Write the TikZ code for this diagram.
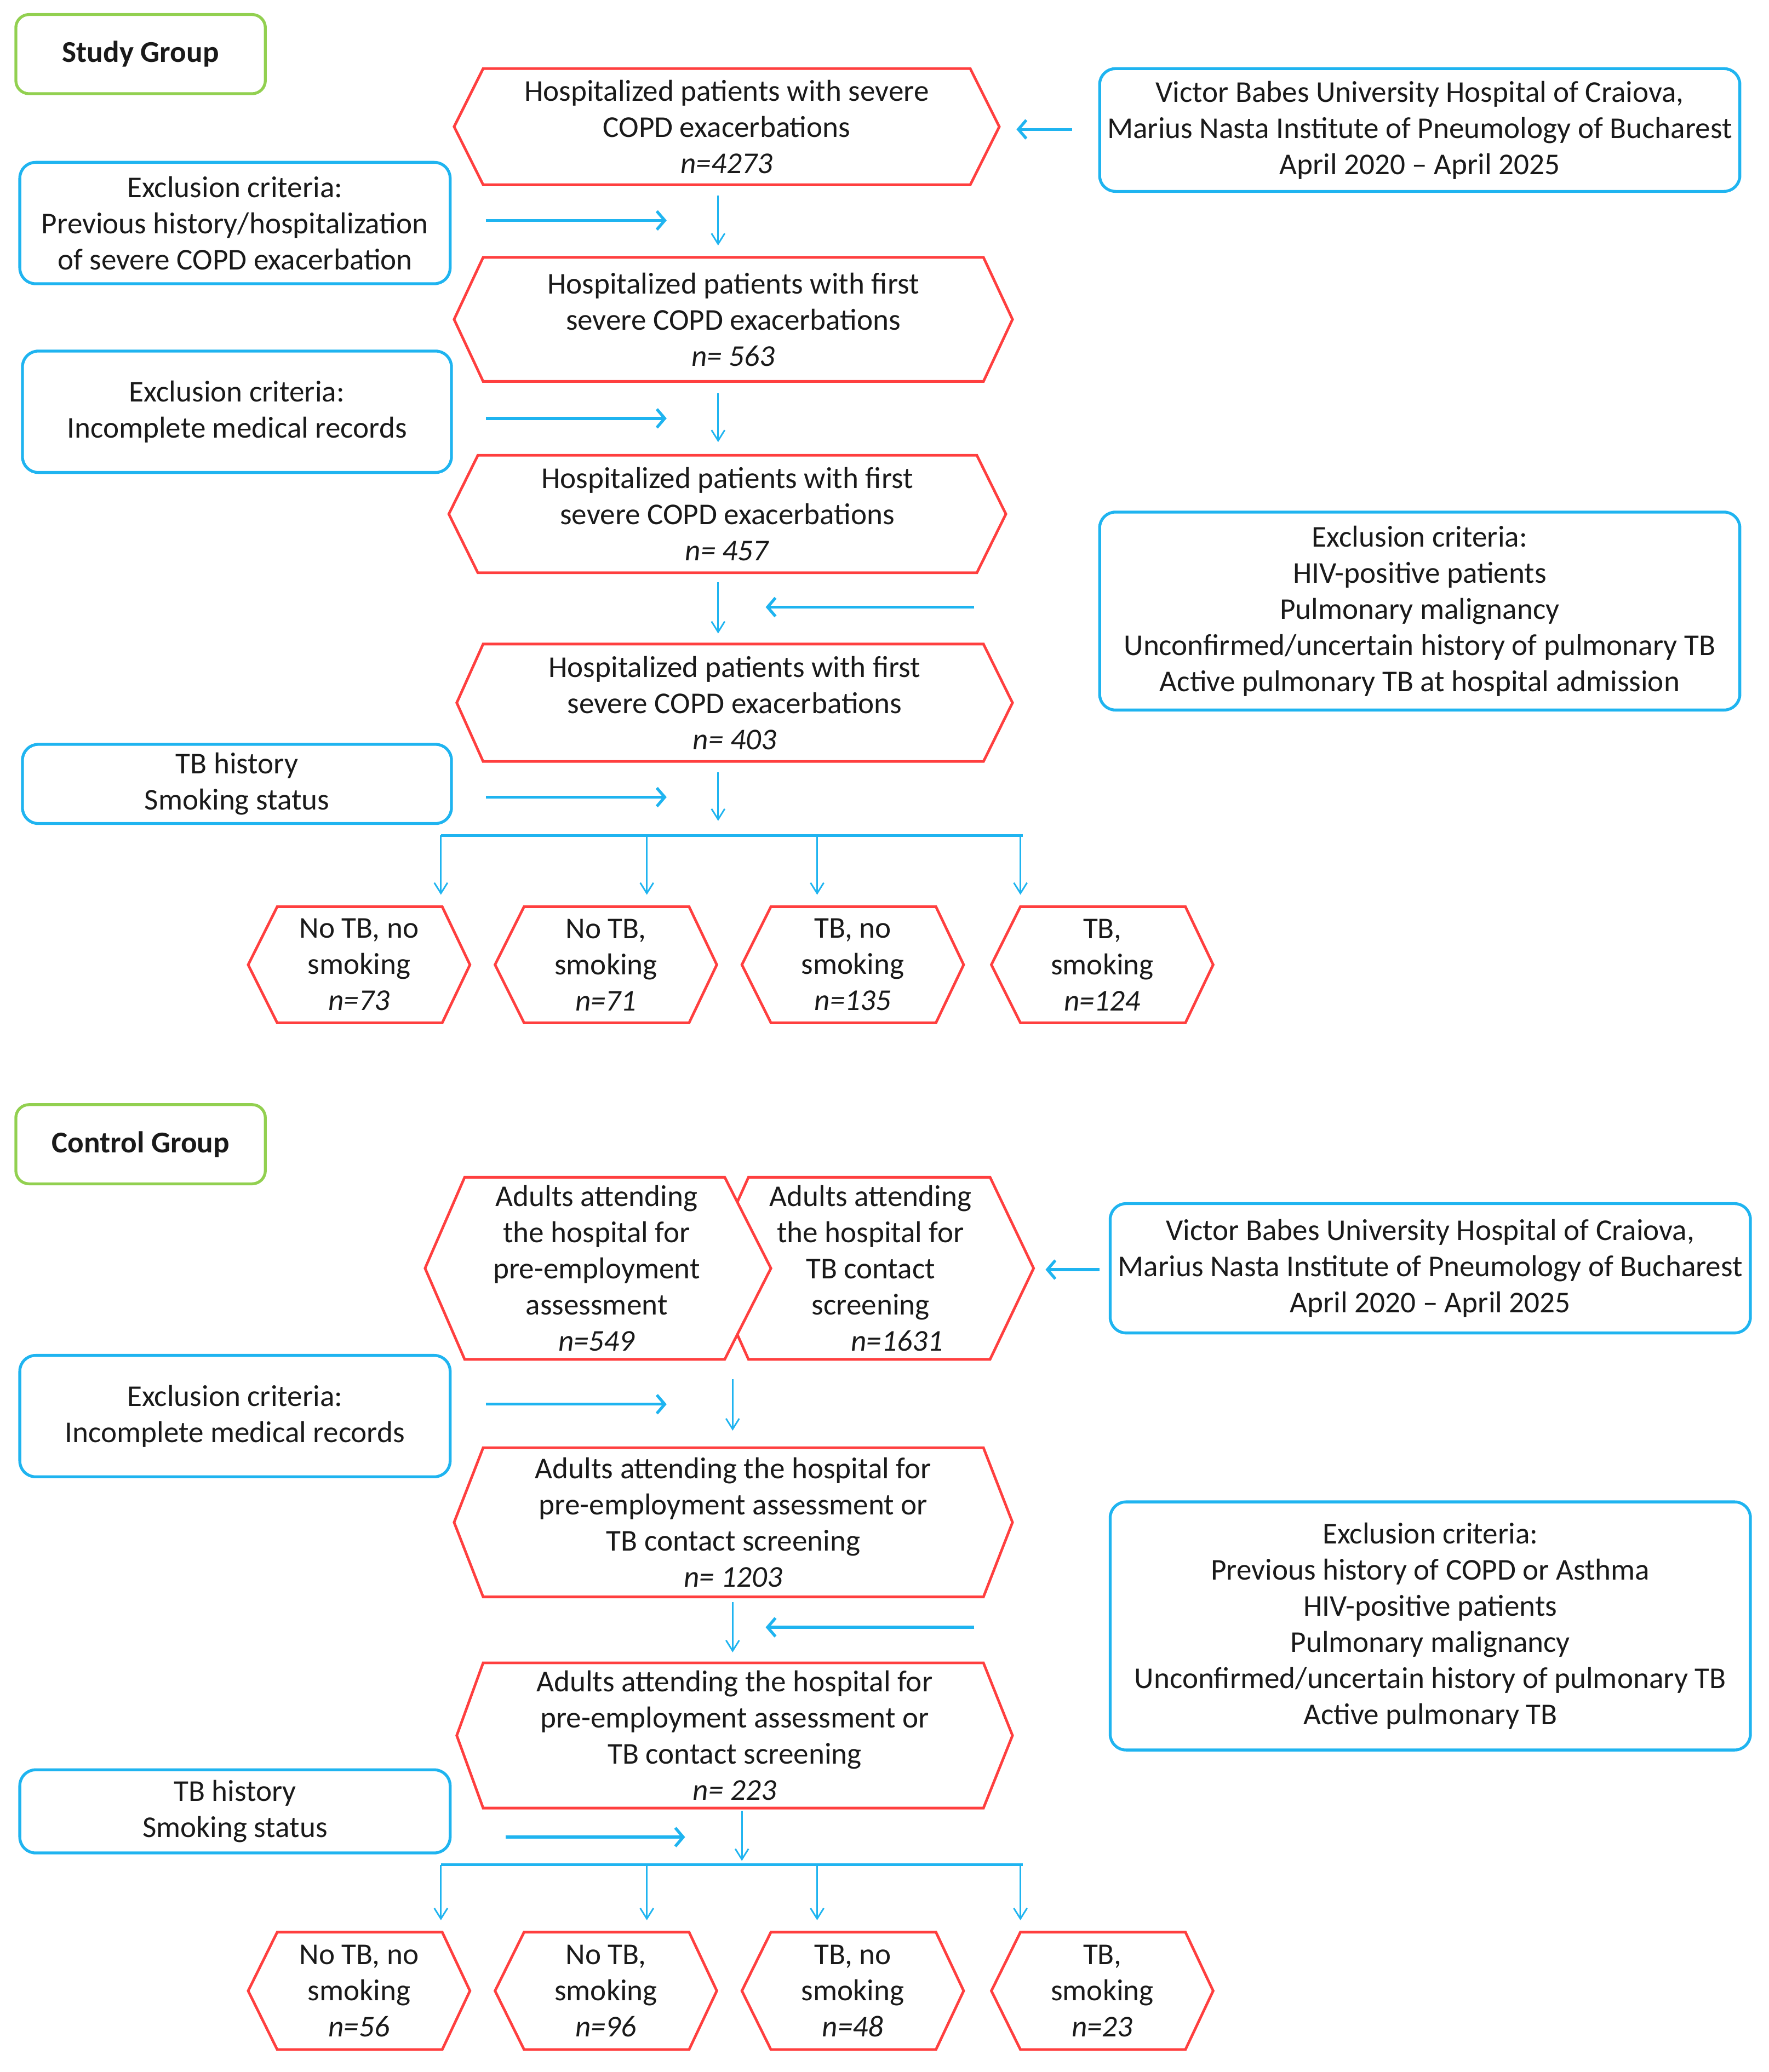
\documentclass[tikz,border=0pt]{standalone}
\usepackage{fontspec}
\setmainfont{Carlito}
\usetikzlibrary{arrows.meta}
\definecolor{bl}{HTML}{1FB4F0}
\definecolor{rd}{HTML}{FF3F3F}
\definecolor{gr}{HTML}{92D050}
\definecolor{tx}{HTML}{1A1A1A}
\newcommand{\myhex}[8]{%
  \draw[hexline] (#2,{(#6+#7)/2}) -- (#3,#6) -- (#4,#6) -- (#5,{(#6+#7)/2}) -- (#4,#7) -- (#3,#7) -- cycle;
  \node[hextext] (#1) at ({(#2+#5)/2},{(#6+#7)/2}) {#8};
}
\tikzset{
  txt/.style={align=center, text=tx, font=\fontsize{11.45}{13.7}\selectfont, inner sep=0pt},
  hexline/.style={draw=rd, line width=1pt, fill=white, line join=miter},
  hextext/.style={txt},
  bluebox/.style={txt, draw=bl, line width=1.1pt, rounded corners=6pt},
  greenbox/.style={txt, draw=gr, line width=1.1pt, rounded corners=5pt, font=\fontsize{11.45}{13.7}\selectfont\bfseries},
  thickarr/.style={draw=bl, line width=1.1pt, -{Straight Barb[length=3pt,width=7pt]}},
  thinarr/.style={draw=bl, line width=0.6pt, -{Straight Barb[length=4pt,width=5pt]}},
  branch/.style={draw=bl, line width=1.1pt},
}
\begin{document}
\begin{tikzpicture}[x=0.5pt,y=-0.5pt]
\useasboundingbox (0,0) rectangle (1340,1570);

% ---------------- Study group ----------------
\node[greenbox, minimum width=94.5pt, minimum height=30pt] (study) at (106.5,41) {Study Group};

\myhex{h1}{344}{366}{735}{757}{52}{140}{Hospitalized patients with severe\\COPD exacerbations\\\textit{n=4273}}
\node[bluebox, minimum width=242.5pt, minimum height=46.5pt] (vic1) at (1075.5,98.5) {Victor Babes University Hospital of Craiova,\\Marius Nasta Institute of Pneumology of Bucharest\\April 2020 -- April 2025};
\coordinate (a1s) at (812,98); \coordinate (a1e) at (770,98);
\draw[thickarr] (a1s) -- (a1e);

\node[bluebox, minimum width=163pt, minimum height=46pt] (ex1) at (178,169) {Exclusion criteria:\\Previous history/hospitalization\\of severe COPD exacerbation};
\coordinate (h1s) at (368,167); \coordinate (h1e) at (505,167);
\draw[thickarr] (h1s) -- (h1e);
\coordinate (v1s) at (544,148); \coordinate (v1e) at (544,186);
\draw[thinarr] (v1s) -- (v1e);

\myhex{h2}{344}{366}{745}{767}{195}{289}{Hospitalized patients with first\\severe COPD exacerbations\\\textit{n= 563}}

\node[bluebox, minimum width=162.5pt, minimum height=46pt] (ex2) at (179.5,312) {Exclusion criteria:\\Incomplete medical records};
\coordinate (h2s) at (368,317); \coordinate (h2e) at (505,317);
\draw[thickarr] (h2s) -- (h2e);
\coordinate (v2s) at (544,298); \coordinate (v2e) at (544,335);
\draw[thinarr] (v2s) -- (v2e);

\myhex{h3}{340}{362}{740}{762}{345}{434}{Hospitalized patients with first\\severe COPD exacerbations\\\textit{n= 457}}

\node[bluebox, minimum width=242.5pt, minimum height=75pt] (ex3) at (1075.5,463) {Exclusion criteria:\\HIV-positive patients\\Pulmonary malignancy\\Unconfirmed/uncertain history of pulmonary TB\\Active pulmonary TB at hospital admission};
\coordinate (a3s) at (738,460); \coordinate (a3e) at (580,460);
\draw[thickarr] (a3s) -- (a3e);
\coordinate (v3s) at (544,441); \coordinate (v3e) at (544,480);
\draw[thinarr] (v3s) -- (v3e);

\myhex{h4}{346}{366}{745}{767}{488}{577}{Hospitalized patients with first\\severe COPD exacerbations\\\textit{n= 403}}

\node[bluebox, minimum width=162.5pt, minimum height=30pt] (tb1) at (179.5,594) {TB history\\Smoking status};
\coordinate (h4s) at (368,604); \coordinate (h4e) at (505,604);
\draw[thickarr] (h4s) -- (h4e);
\coordinate (v4s) at (544,585); \coordinate (v4e) at (544,622);
\draw[thinarr] (v4s) -- (v4e);

\coordinate (b1l) at (334,633); \coordinate (b1r) at (775,633);
\draw[branch] (b1l) -- (b1r);
\coordinate (b1a) at (490,633); \coordinate (b1b) at (619,633); \coordinate (b1c) at (773,633);
\coordinate (e1l) at (334,678); \coordinate (e1a) at (490,678); \coordinate (e1b) at (619,678); \coordinate (e1c) at (773,678);
\draw[thinarr] (b1l) -- (e1l);
\draw[thinarr] (b1a) -- (e1a);
\draw[thinarr] (b1b) -- (e1b);
\draw[thinarr] (b1c) -- (e1c);

\myhex{s1}{188}{210}{335}{356}{687}{775}{No TB, no\\smoking\\\textit{n=73}}
\myhex{s2}{375}{397}{522}{543}{687}{775}{No TB,\\smoking\\\textit{n=71}}
\myhex{s3}{562}{584}{709}{730}{687}{775}{TB, no\\smoking\\\textit{n=135}}
\myhex{s4}{751}{773}{898}{919}{687}{775}{TB,\\smoking\\\textit{n=124}}

% ---------------- Control group ----------------
\node[greenbox, minimum width=94.5pt, minimum height=30pt] (control) at (106.5,867) {Control Group};

\myhex{c0b}{536}{567}{750}{783}{892}{1030}{Adults attending\\the hospital for\\TB contact\\screening\\\hspace*{20pt}\textit{n=1631}}
\myhex{c0a}{322}{352}{549}{584}{892}{1030}{}
\node[hextext] (c0at) at (452,961) {Adults attending\\the hospital for\\pre-employment\\assessment\\\textit{n=549}};

\node[bluebox, minimum width=242.5pt, minimum height=49pt] (vic2) at (1083.5,961) {Victor Babes University Hospital of Craiova,\\Marius Nasta Institute of Pneumology of Bucharest\\April 2020 -- April 2025};
\coordinate (a2s) at (833,962); \coordinate (a2e) at (792,962);
\draw[thickarr] (a2s) -- (a2e);

\node[bluebox, minimum width=163pt, minimum height=46pt] (ex4) at (178,1073) {Exclusion criteria:\\Incomplete medical records};
\coordinate (h5s) at (368,1064); \coordinate (h5e) at (505,1064);
\draw[thickarr] (h5s) -- (h5e);
\coordinate (v5s) at (555,1045); \coordinate (v5e) at (555,1084);
\draw[thinarr] (v5s) -- (v5e);

\myhex{c1}{344}{366}{745}{767}{1097}{1210}{Adults attending the hospital for\\pre-employment assessment or\\TB contact screening\\\textit{n= 1203}}

\node[bluebox, minimum width=242.5pt, minimum height=94pt] (ex5) at (1083.5,1232) {Exclusion criteria:\\Previous history of COPD or Asthma\\HIV-positive patients\\Pulmonary malignancy\\Unconfirmed/uncertain history of pulmonary TB\\Active pulmonary TB};
\coordinate (a6s) at (738,1233); \coordinate (a6e) at (580,1233);
\draw[thickarr] (a6s) -- (a6e);
\coordinate (v6s) at (555,1214); \coordinate (v6e) at (555,1252);
\draw[thinarr] (v6s) -- (v6e);

\myhex{c2}{346}{366}{745}{767}{1260}{1370}{Adults attending the hospital for\\pre-employment assessment or\\TB contact screening\\\textit{n= 223}}

\node[bluebox, minimum width=163pt, minimum height=31.5pt] (tb2) at (178,1372.5) {TB history\\Smoking status};
\coordinate (h7s) at (383,1392); \coordinate (h7e) at (519,1392);
\draw[thickarr] (h7s) -- (h7e);
\coordinate (v7s) at (562,1372); \coordinate (v7e) at (562,1410);
\draw[thinarr] (v7s) -- (v7e);

\coordinate (b2l) at (334,1413); \coordinate (b2r) at (775,1413);
\draw[branch] (b2l) -- (b2r);
\coordinate (b2a) at (490,1413); \coordinate (b2b) at (619,1413); \coordinate (b2c) at (773,1413);
\coordinate (e2l) at (334,1455); \coordinate (e2a) at (490,1455); \coordinate (e2b) at (619,1455); \coordinate (e2c) at (773,1455);
\draw[thinarr] (b2l) -- (e2l);
\draw[thinarr] (b2a) -- (e2a);
\draw[thinarr] (b2b) -- (e2b);
\draw[thinarr] (b2c) -- (e2c);

\myhex{t1}{188}{210}{335}{356}{1464}{1553}{No TB, no\\smoking\\\textit{n=56}}
\myhex{t2}{375}{397}{522}{543}{1464}{1553}{No TB,\\smoking\\\textit{n=96}}
\myhex{t3}{562}{584}{709}{730}{1464}{1553}{TB, no\\smoking\\\textit{n=48}}
\myhex{t4}{751}{773}{898}{919}{1464}{1553}{TB,\\smoking\\\textit{n=23}}
\end{tikzpicture}
\end{document}
